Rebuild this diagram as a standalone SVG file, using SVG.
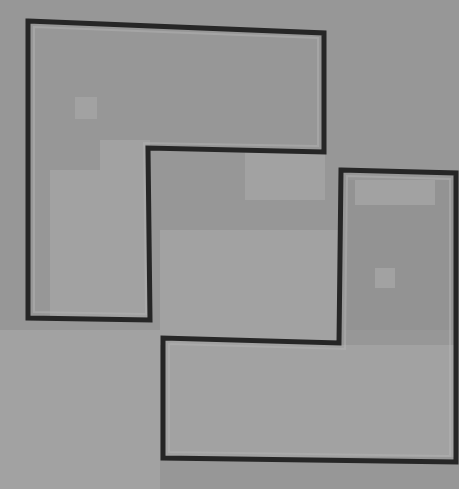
<svg xmlns="http://www.w3.org/2000/svg" width="459" height="489" viewBox="0 0 459 489">
<style>
.bg{fill:#979797}
.lt{fill:#a2a2a2}
.dk{fill:#939393}
.outline{fill:none;stroke:#262626;stroke-width:5;stroke-linejoin:miter}
.hl{fill:none;stroke:#b4b4b4;stroke-width:2;opacity:0.5}
</style>
<rect class="bg" x="0" y="0" width="459" height="489"/>
<g id="texture">
<rect class="lt" x="0" y="330" width="160" height="159"/>
<rect class="lt" x="160" y="320" width="180" height="25"/>
<rect class="lt" x="160" y="230" width="180" height="90"/>
<rect class="lt" x="50" y="170" width="100" height="150"/>
<rect class="lt" x="100" y="140" width="50" height="30"/>
<rect class="lt" x="165" y="345" width="290" height="112"/>
<rect class="dk" x="345" y="180" width="110" height="150"/>
<rect class="lt" x="355" y="180" width="80" height="25"/>
<rect class="lt" x="375" y="268" width="20" height="20"/>
<rect class="lt" x="75" y="97" width="22" height="22"/>
<rect class="lt" x="245" y="150" width="80" height="50"/>
</g>
<g id="shape-top-left">
<polygon class="hl" points="34,27 318,38 318,146 144,143 146,314 34,312"/>
<polygon class="outline" points="28,21 324,33 324,152 148,148 150,320 28,318"/>
</g>
<g id="shape-bottom-right">
<polygon class="hl" points="347,176 450,179 450,456 169,452 169,344 345,349"/>
<polygon class="outline" points="341,170 456,173 456,462 163,458 163,338 339,343"/>
</g>
</svg>
